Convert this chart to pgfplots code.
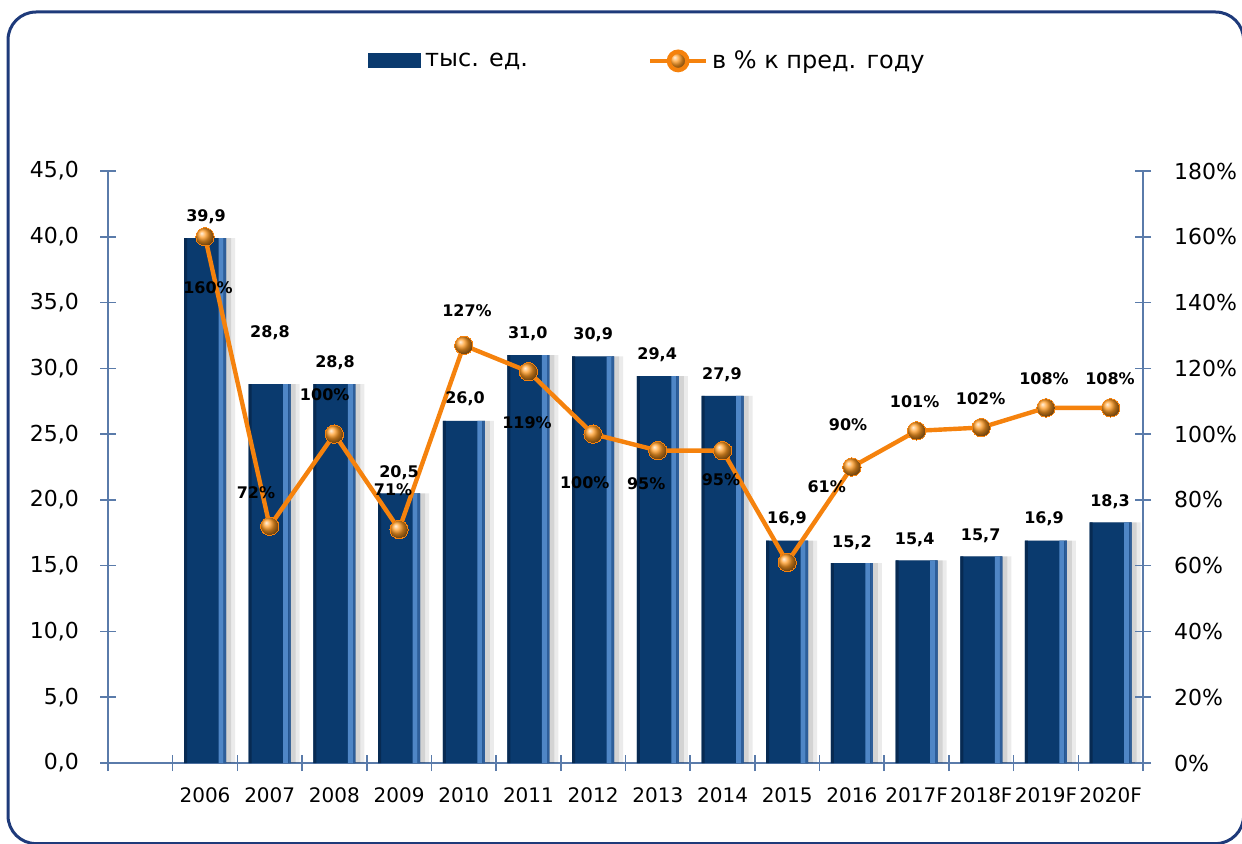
\documentclass[border=0pt]{standalone}
\usepackage{pgfplots}
\pgfplotsset{compat=1.18}
\usepackage{pgfplotstable}
\usepackage{fontspec}
\setmainfont{DejaVu Sans}

\definecolor{barmain}{HTML}{0A3A6E}
\definecolor{bardark}{HTML}{072A52}
\definecolor{barlight}{HTML}{4F86C6}
\definecolor{barmid}{HTML}{2E5E9A}
\definecolor{lineorange}{HTML}{F5820D}
\definecolor{ballcol}{HTML}{FF9A22}
\definecolor{axiscol}{HTML}{5A7BAA}
\definecolor{framecol}{HTML}{1E3A7A}

% year, thousand units, % to previous year
\pgfplotstableread{
x val pct
1 39.9 160
2 28.8 72
3 28.8 100
4 20.5 71
5 26.0 127
6 31.0 119
7 30.9 100
8 29.4 95
9 27.9 95
10 16.9 61
11 15.2 90
12 15.4 101
13 15.7 102
14 16.9 108
15 18.3 108
}\datatable

\pgfplotsset{
  base/.style={
    at={(54pt,40pt)}, anchor=south west,
    scale only axis, width=517.5pt, height=296pt,
    xmin=-0.5, xmax=15.5, ymin=0,
    axis line style={axiscol, line width=0.8pt},
    tick style={axiscol, line width=0.8pt},
    tick align=center,
    major tick length=8pt,
    /pgf/number format/assume math mode=true,
    clip=false,
  },
}

\begin{document}
\begin{tikzpicture}[x=1pt, y=1pt,
  lbl/.style={font=\bfseries\fontsize{8}{9}\selectfont, inner sep=0pt}]
\useasboundingbox (0,0) rectangle (621,421.5);
\draw[framecol, line width=1.5pt, rounded corners=14pt] (4,-0.3) rectangle (621.8,415.5);

\begin{axis}[base,
  ymax=45,
  axis y line*=left, axis x line*=bottom,
  ytick={0,5,...,45},
  yticklabel style={font=\fontsize{11}{13}\selectfont, xshift=-7pt,
    /pgf/number format/.cd, fixed, fixed zerofill, precision=1, use comma},
  xtick={-0.5,0.5,...,15.5}, xticklabels={},
  extra x ticks={1,...,15},
  extra x tick labels={2006,2007,2008,2009,2010,2011,2012,2013,2014,2015,2016,2017F,2018F,2019F,2020F},
  extra x tick style={major tick length=0pt},
  xticklabel style={font=\fontsize{10}{12}\selectfont, yshift=-9pt},
]
% soft shadow
\addplot[ybar, bar width=24pt, bar shift=3pt, fill=black, opacity=0.08, draw=none] table[x=x, y=val] {\datatable};
\addplot[ybar, bar width=22pt, bar shift=2pt, fill=black, opacity=0.10, draw=none] table[x=x, y=val] {\datatable};
% bar body
\addplot[ybar, bar width=21pt, bar shift=0pt, fill=barmain, draw=none] table[x=x, y=val] {\datatable};
\addplot[ybar, bar width=1.5pt, bar shift=-9.75pt, fill=bardark, draw=none] table[x=x, y=val] {\datatable};
\addplot[ybar, bar width=2.5pt, bar shift=8pt, fill=barlight, draw=none] table[x=x, y=val] {\datatable};
\addplot[ybar, bar width=1.2pt, bar shift=9.9pt, fill=barmid, draw=none] table[x=x, y=val] {\datatable};
\end{axis}

\begin{axis}[base,
  ymax=180,
  axis y line*=right, axis x line=none,
  ytick={0,20,...,180},
  yticklabel={\pgfmathprintnumber{\tick}\%},
  yticklabel style={font=\fontsize{11}{13}\selectfont, xshift=8pt},
  legend columns=2,
  legend style={at={(rel axis cs:0.2512,1.186)}, anchor=west, draw=none, fill=none,
    inner sep=0pt, font=\fontsize{12}{14}\selectfont,
    /tikz/every even column/.append style={column sep=58pt}},
  legend cell align=left,
]
\addlegendimage{legend image code/.code={\fill[barmain] (0pt,-3.5pt) rectangle (26pt,3.5pt);}}
\addlegendentry{тыс. ед.}
\addplot[lineorange, line width=2.2pt, mark=ball, mark size=4.6pt,
  mark options={ball color=ballcol, draw=none, line width=0pt},
  legend image code/.code={
    \draw[lineorange, line width=2pt] (0pt,0pt) -- (28pt,0pt);
    \shade[ball color=ballcol] (14pt,0pt) circle (4.6pt);}]
  table[x=x, y=pct] {\datatable};
\addlegendentry{в \% к пред. году}

\node[lbl] at (axis cs:1.015,166.0) {39,9};
\node[lbl] at (axis cs:1.046,144.4) {160\%};
\node[lbl] at (axis cs:2.004,130.7) {28,8};
\node[lbl] at (axis cs:1.788,82.1) {72\%};
\node[lbl] at (axis cs:3.01,121.6) {28,8};
\node[lbl] at (axis cs:2.85,111.9) {100\%};
\node[lbl] at (axis cs:4.0,88.2) {20,5};
\node[lbl] at (axis cs:3.906,83.0) {71\%};
\node[lbl] at (axis cs:5.05,137.4) {127\%};
\node[lbl] at (axis cs:5.02,110.7) {26,0};
\node[lbl] at (axis cs:5.99,130.4) {31,0};
\node[lbl] at (axis cs:5.977,103.4) {119\%};
\node[lbl] at (axis cs:7.0,130.1) {30,9};
\node[lbl] at (axis cs:6.87,85.1) {100\%};
\node[lbl] at (axis cs:7.99,124.0) {29,4};
\node[lbl] at (axis cs:7.82,84.8) {95\%};
\node[lbl] at (axis cs:8.99,118.0) {27,9};
\node[lbl] at (axis cs:8.976,86.0) {95\%};
\node[lbl] at (axis cs:9.996,74.2) {16,9};
\node[lbl] at (axis cs:10.61,83.9) {61\%};
\node[lbl] at (axis cs:10.94,102.8) {90\%};
\node[lbl] at (axis cs:11.0,66.9) {15,2};
\node[lbl] at (axis cs:11.97,109.8) {101\%};
\node[lbl] at (axis cs:11.97,67.8) {15,4};
\node[lbl] at (axis cs:12.99,110.7) {102\%};
\node[lbl] at (axis cs:12.99,69.0) {15,7};
\node[lbl] at (axis cs:13.97,116.8) {108\%};
\node[lbl] at (axis cs:13.97,74.2) {16,9};
\node[lbl] at (axis cs:14.99,116.8) {108\%};
\node[lbl] at (axis cs:14.99,79.4) {18,3};
\end{axis}
\end{tikzpicture}
\end{document}
